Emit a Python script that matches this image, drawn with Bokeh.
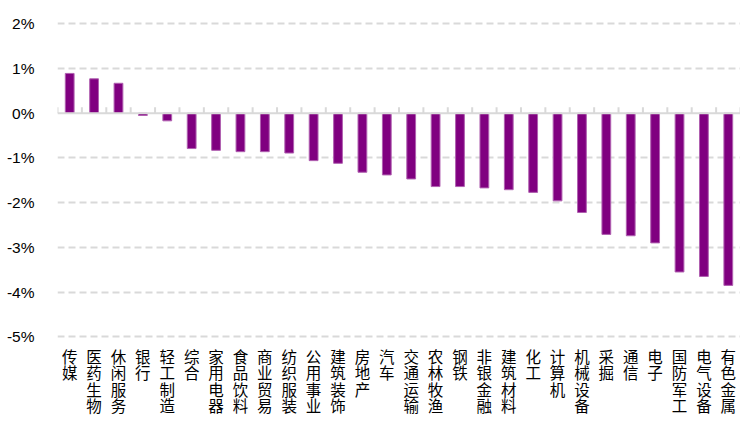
from bokeh.plotting import figure
from bokeh.models import ColumnDataSource, FixedTicker, Range1d, CustomJSTickFormatter, Span
from bokeh.core.properties import value
from bokeh.embed import file_html
from bokeh.resources import INLINE

categories = ["传媒", "医药生物", "休闲服务", "银行", "轻工制造", "综合", "家用电器", "食品饮料",
              "商业贸易", "纺织服装", "公用事业", "建筑装饰", "房地产", "汽车", "交通运输", "农林牧渔",
              "钢铁", "非银金融", "建筑材料", "化工", "计算机", "机械设备", "采掘", "通信", "电子",
              "国防军工", "电气设备", "有色金属"]
values_pct = [0.89, 0.77, 0.67, -0.05, -0.17, -0.79, -0.83, -0.86, -0.86, -0.89, -1.06, -1.12,
              -1.32, -1.38, -1.47, -1.64, -1.64, -1.67, -1.71, -1.77, -1.96, -2.22, -2.71, -2.74,
              -2.90, -3.55, -3.65, -3.85]
y_ticks = [-5, -4, -3, -2, -1, 0, 1, 2]

W, H = 740, 421
LEFT = 57
Y_START, Y_END = -6.894, 2.521
px_per_unit = H / (Y_END - Y_START)

n = len(categories)
xs = [i + 0.5 for i in range(n)]
src = ColumnDataSource(dict(x=xs, top=values_pct))

# stacked (vertical) category labels: one text per character
lab_x, lab_ch, lab_off = [], [], []
ROW = 16.5
for i, c in enumerate(categories):
    for j, ch in enumerate(c):
        lab_x.append(i + 0.5)
        lab_ch.append(ch)
        lab_off.append(8 + j * ROW)
lab_src = ColumnDataSource(dict(x=lab_x, ch=lab_ch, off=lab_off))

p = figure(width=W, height=H, output_backend="svg", toolbar_location=None,
           x_range=Range1d(0, n), y_range=Range1d(Y_START, Y_END),
           x_axis_location=None, y_axis_location="left",
           min_border_left=LEFT, min_border_right=0, min_border_top=0, min_border_bottom=0)
p.outline_line_color = None
p.background_fill_color = "white"
p.border_fill_color = "white"

# y axis
p.yaxis.ticker = FixedTicker(ticks=y_ticks)
p.yaxis.formatter = CustomJSTickFormatter(code="return tick.toFixed(0) + '%';")
p.yaxis.axis_line_color = None
p.yaxis.major_tick_line_color = None
p.yaxis.minor_tick_line_color = None
p.yaxis.major_label_standoff = 17
p.yaxis.major_label_text_font = "Liberation Sans"
p.yaxis.major_label_text_font_size = "15.5px"
p.yaxis.major_label_text_color = "#000000"

p.xgrid.visible = False
p.ygrid.ticker = FixedTicker(ticks=[t for t in y_ticks if t != 0])
p.ygrid.grid_line_color = "#d9d9d9"
p.ygrid.grid_line_width = 2
p.ygrid.grid_line_dash = "7 4"

p.vbar(x="x", top="top", bottom=0, width=0.36, source=src,
       fill_color="#800080", line_color="#b060b0", line_width=1)

# zero line with category-boundary ticks
p.add_layout(Span(location=0, dimension="width", line_color="#d9d9d9", line_width=2))
bounds = list(range(n + 1))
tick_len = 6 / px_per_unit
p.segment(x0=bounds, y0=[0] * len(bounds), x1=bounds, y1=[tick_len] * len(bounds),
          line_color="#d9d9d9", line_width=2)

p.text(x="x", y=y_ticks[0], text="ch", source=lab_src, y_offset="off",
       text_align="center", text_baseline="top",
       text_font=value("Noto Sans CJK SC"), text_font_size="15.5px", text_color="#000000")

open("out.html", "w").write(file_html(p, INLINE))
